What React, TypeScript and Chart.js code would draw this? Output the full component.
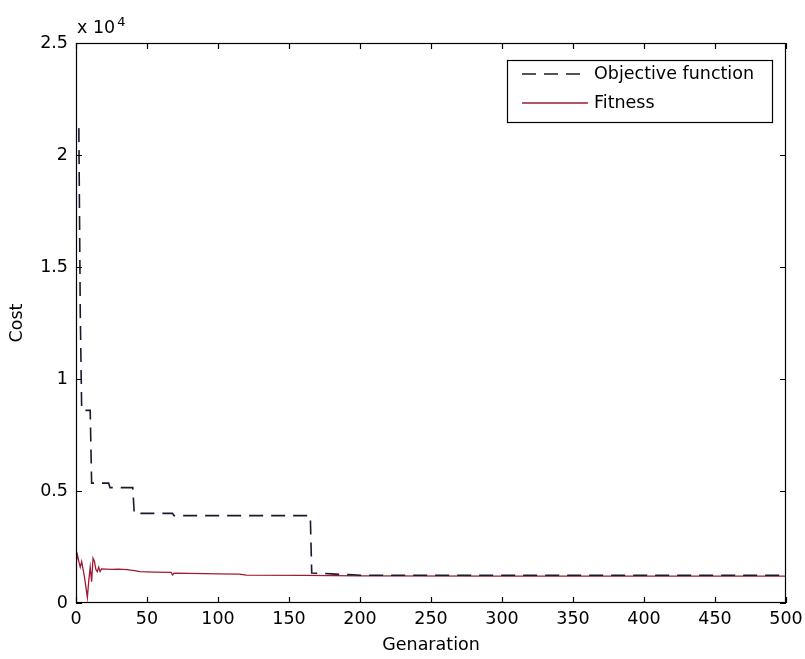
import React, { useEffect, useRef } from "react";
import { Chart, registerables } from "chart.js";

Chart.register(...registerables);

// ---- data ----
const objectiveGen = [2, 3, 4, 10, 11, 23, 24, 40, 41, 68, 69, 165, 166, 175, 180, 185, 195, 200, 500];
const objectiveCost = [21200, 13000, 8600, 8600, 5350, 5350, 5150, 5150, 4000, 4000, 3900, 3900, 1340, 1320, 1300, 1280, 1260, 1240, 1240];

const fitnessGen = [0, 1, 2, 3, 4, 5, 6, 7, 8, 9, 10, 11, 12, 13, 14, 15, 16, 17, 18, 25, 30, 36, 40, 45, 55, 67, 68, 69, 80, 100, 115, 120, 160, 200, 300, 500];
const fitnessCost = [1750, 2150, 1850, 1600, 1850, 1500, 1150, 700, 250, 1000, 1600, 950, 2000, 1850, 1500, 1400, 1600, 1400, 1520, 1500, 1510, 1490, 1460, 1400, 1380, 1370, 1250, 1330, 1320, 1300, 1290, 1240, 1230, 1210, 1200, 1200];

const xTicks = [0, 50, 100, 150, 200, 250, 300, 350, 400, 450, 500];
const yTicks = [0, 5000, 10000, 15000, 20000, 25000];

const seriesLabels = ["Objective function", "Fitness"];
const xLabel = "Genaration";
const yLabel = "Cost";
const multiplierBase = "x 10";
const multiplierExp = "4";

const FONT = "'DejaVu Sans', sans-serif";
const FS = 17.5;

const framePlugin = {
  id: "matlabFrame",
  afterDatasetsDraw(chart: any) {
    const { ctx, chartArea } = chart;
    const { left, right, top, bottom } = chartArea;
    const xs = chart.scales.x;
    const ys = chart.scales.y;
    ctx.save();
    ctx.strokeStyle = "#000";
    ctx.lineWidth = 1.2;
    ctx.setLineDash([]);
    ctx.strokeRect(left + 0.5, top + 0.5, right - left - 1, bottom - top - 1);
    const tl = 6;
    ctx.beginPath();
    xTicks.forEach((v) => {
      const px = Math.round(xs.getPixelForValue(v)) + 0.5;
      ctx.moveTo(px, bottom);
      ctx.lineTo(px, bottom - tl);
      ctx.moveTo(px, top);
      ctx.lineTo(px, top + tl);
    });
    yTicks.forEach((v) => {
      const py = Math.round(ys.getPixelForValue(v)) + 0.5;
      ctx.moveTo(left, py);
      ctx.lineTo(left + tl, py);
      ctx.moveTo(right, py);
      ctx.lineTo(right - tl, py);
    });
    ctx.stroke();

    // multiplier
    ctx.fillStyle = "#000";
    ctx.font = `${FS}px ${FONT}`;
    ctx.textBaseline = "alphabetic";
    ctx.textAlign = "left";
    ctx.fillText(multiplierBase, left + 1, top - 10);
    const w = ctx.measureText(multiplierBase).width;
    ctx.font = `13px ${FONT}`;
    ctx.fillText(multiplierExp, left + 3 + w, top - 17);

    // legend
    const lw = 265, lh = 62;
    const lx = right - 14 - lw;
    const ly = top + 17;
    ctx.fillStyle = "#fff";
    ctx.fillRect(lx, ly, lw, lh);
    ctx.strokeStyle = "#000";
    ctx.lineWidth = 1.2;
    ctx.strokeRect(lx + 0.5, ly + 0.5, lw, lh);
    const rows = [ly + 14, ly + 43];
    chart.data.datasets.forEach((ds: any, i: number) => {
      ctx.save();
      ctx.strokeStyle = ds.borderColor;
      ctx.lineWidth = ds.borderWidth;
      ctx.setLineDash(ds.borderDash || []);
      ctx.beginPath();
      ctx.moveTo(lx + 15, rows[i]);
      ctx.lineTo(lx + 81, rows[i]);
      ctx.stroke();
      ctx.restore();
      ctx.fillStyle = "#000";
      ctx.font = `${FS}px ${FONT}`;
      ctx.textBaseline = "middle";
      ctx.textAlign = "left";
      ctx.fillText(ds.label, lx + 87, rows[i]);
    });
    ctx.restore();
  },
};

const zeroPad = (s: any) => {
  s.paddingLeft = 0;
  s.paddingRight = 0;
  s.paddingTop = 0;
  s.paddingBottom = 0;
};

export default function App() {
  const ref = useRef<HTMLCanvasElement>(null);
  useEffect(() => {
    const canvas = ref.current!;
    const chart = new Chart(canvas, {
      type: "line",
      data: {
        datasets: [
          {
            label: seriesLabels[0],
            data: objectiveGen.map((g, i) => ({ x: g, y: objectiveCost[i] })),
            borderColor: "#1a1a2e",
            borderWidth: 1.6,
            borderDash: [14, 8],
            pointRadius: 0,
            tension: 0,
            fill: false,
          },
          {
            label: seriesLabels[1],
            data: fitnessGen.map((g, i) => ({ x: g, y: fitnessCost[i] })),
            borderColor: "#9e1b32",
            borderWidth: 1.3,
            pointRadius: 0,
            tension: 0,
            fill: false,
          },
        ],
      },
      options: {
        responsive: false,
        animation: false,
        events: [],
        layout: { padding: { top: 43, right: 19, left: 0, bottom: 0 } },
        plugins: { legend: { display: false }, tooltip: { enabled: false } },
        scales: {
          x: {
            type: "linear",
            min: 0,
            max: 500,
            afterFit: (s: any) => { s.height = 56; zeroPad(s); },
            afterBuildTicks: (s: any) => { s.ticks = xTicks.map((v) => ({ value: v })); },
            grid: { display: false, drawTicks: false },
            border: { display: false },
            ticks: {
              padding: 6,
              color: "#000",
              maxRotation: 0,
              font: { family: FONT, size: FS },
            },
            title: {
              display: true,
              text: xLabel,
              color: "#000",
              font: { family: FONT, size: FS },
              padding: { top: 0, bottom: 3 },
            },
          },
          y: {
            type: "linear",
            min: 0,
            max: 25000,
            afterFit: (s: any) => { s.width = 76; zeroPad(s); },
            afterBuildTicks: (s: any) => { s.ticks = yTicks.map((v) => ({ value: v })); },
            grid: { display: false, drawTicks: false },
            border: { display: false },
            ticks: {
              padding: 8,
              color: "#000",
              font: { family: FONT, size: FS },
              callback: (v: any) => String(Number(v) / 10000),
            },
            title: {
              display: true,
              text: yLabel,
              color: "#000",
              font: { family: FONT, size: FS },
              padding: { top: 7, bottom: 0 },
            },
          },
        },
      },
      plugins: [framePlugin],
    } as any);
    return () => chart.destroy();
  }, []);
  return (
    <div style={{ position: "absolute", left: 0, top: 0, width: 805, height: 659, background: "#fff" }}>
      <canvas ref={ref} width={805} height={659} style={{ display: "block" }} />
    </div>
  );
}
